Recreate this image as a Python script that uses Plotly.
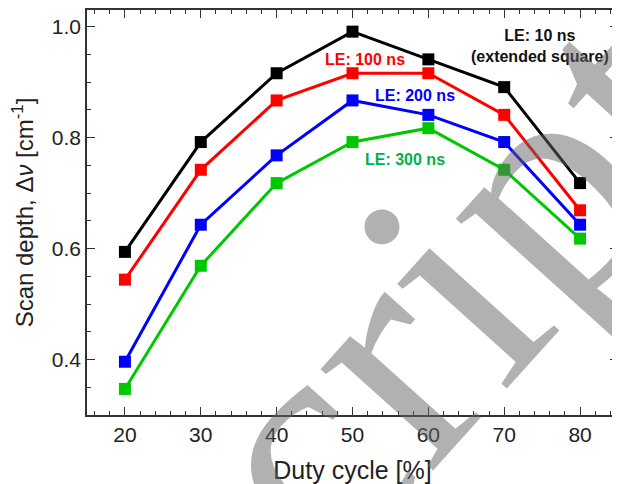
import plotly.graph_objects as go

duty = [20, 30, 40, 50, 60, 70, 80]
le10 = [0.594, 0.792, 0.916, 0.991, 0.941, 0.891, 0.718]
le100 = [0.544, 0.742, 0.867, 0.916, 0.916, 0.841, 0.669]
le200 = [0.396, 0.643, 0.768, 0.867, 0.841, 0.792, 0.643]
le300 = [0.347, 0.569, 0.718, 0.792, 0.817, 0.742, 0.618]

series = [
    ("LE: 10 ns", le10, "#000000"),
    ("LE: 100 ns", le100, "#ff0000"),
    ("LE: 200 ns", le200, "#0000ff"),
    ("LE: 300 ns", le300, "#00c800"),
]

fig = go.Figure()

for name, vals, col in series:
    fig.add_trace(go.Scatter(
        x=duty, y=vals, name=name, mode="lines+markers",
        line=dict(color=col, width=3),
        marker=dict(symbol="square", size=12, color=col),
    ))

lab_font = dict(family="Liberation Sans, Arial", size=16)
labels = [
    (74.7, 0.965, "<b>LE: 10 ns<br>(extended square)</b>", "#111111"),
    (51.6, 0.940, "<b>LE: 100 ns</b>", "#ff0000"),
    (58.2, 0.876, "<b>LE: 200 ns</b>", "#0000ff"),
    (56.9, 0.760, "<b>LE: 300 ns</b>", "#00b050"),
]
for x, y, txt, col in labels:
    fig.add_annotation(x=x, y=y, text=txt, showarrow=False,
                       font=dict(lab_font, color=col), align="center")

# manuscript watermark
fig.add_annotation(xref="paper", yref="paper", x=0.685, y=0.321,
                   xanchor="center", yanchor="middle",
                   text="cript", showarrow=False, textangle=-48,
                   font=dict(family="Liberation Serif", size=330, color="#666666"),
                   opacity=0.5)

axis_common = dict(
    showline=True, linecolor="#333333", linewidth=1.5, mirror="ticks",
    ticks="inside", ticklen=8, tickwidth=1.2, tickcolor="#333333",
    showgrid=False, zeroline=False, automargin=False,
    tickfont=dict(family="Liberation Sans, Arial", size=21, color="#222222"),
)

fig.update_xaxes(axis_common, range=[15, 85], dtick=10, tick0=0,
                 minor=dict(dtick=2, ticks="inside", ticklen=4, tickcolor="#333333"),
                 title=dict(text="Duty cycle [%]", standoff=17,
                            font=dict(family="Liberation Sans, Arial", size=25, color="#222222")))
fig.update_yaxes(axis_common, range=[0.30, 1.03], dtick=0.2, tick0=0, tickformat=".1f",
                 minor=dict(dtick=0.05, ticks="inside", ticklen=4, tickcolor="#333333"),
                 title=dict(text="Scan depth, Δ<i>ν</i> [cm<sup>-1</sup>]", standoff=11,
                            font=dict(family="Liberation Sans, Arial", size=24, color="#222222")))

# page body has an 8px margin, so the figure is 8px smaller than the window
fig.update_layout(
    width=612, height=476,
    margin=dict(l=79, r=2, t=2, b=69),
    plot_bgcolor="white", paper_bgcolor="white",
    showlegend=False,
)

fig.write_html("out.html")
